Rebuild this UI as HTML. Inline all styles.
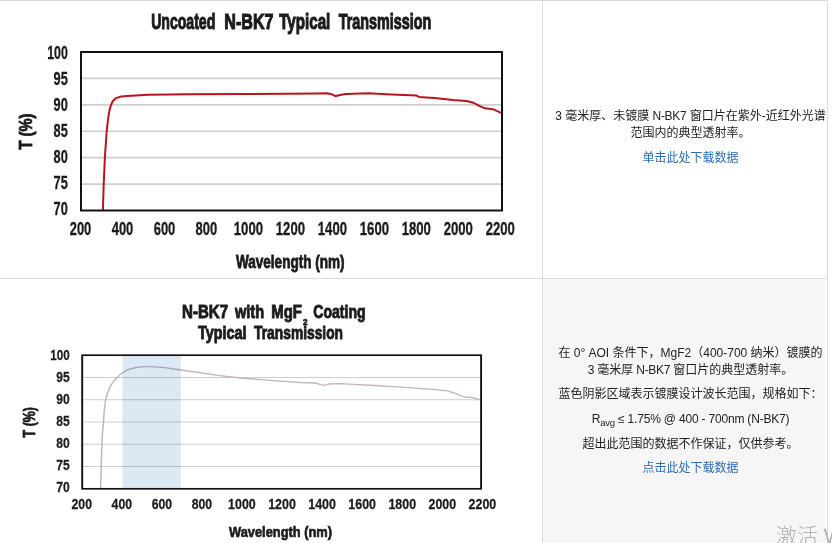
<!DOCTYPE html>
<html lang="zh-CN"><head><meta charset="utf-8"><title>N-BK7 Transmission</title>
<style>
html,body{margin:0;padding:0;background:#fff}
body{width:832px;height:543px;position:relative;overflow:hidden;font-family:"Liberation Sans","Noto Sans CJK SC",sans-serif;font-size:12px;color:#222}
.ln{position:absolute;background:#dedede}
.t{position:absolute;left:540.5px;width:300px;text-align:center;white-space:nowrap;line-height:17px;height:17px}
a{color:#2a6db5;text-decoration:none}
svg{position:absolute;left:0;top:0}
svg text{font-family:"Liberation Sans",sans-serif;fill:#1d1a1b}
.n{font-size:17.5px;font-weight:bold;stroke:#1d1a1b;stroke-width:.3px}
.b{font-size:17.5px;font-weight:bold;stroke:#1d1a1b;stroke-width:.8px}
.h{font-size:22.3px;font-weight:bold;stroke:#1d1a1b;stroke-width:1.1px}
.l{letter-spacing:-.3px}
sub{font-size:9.5px;vertical-align:-3px;line-height:0}
</style></head><body>
<div style="position:absolute;left:543px;top:279px;width:282.5px;height:264px;background:#f6f6f6"></div>
<div class="ln" style="left:0;top:0;width:828px;height:1px;background:#d9d9d9"></div>
<div class="ln" style="left:0;top:278px;width:828px;height:1px"></div>
<div class="ln" style="left:542px;top:0;width:1px;height:543px"></div>
<div class="ln" style="left:827px;top:0;width:1px;height:543px"></div>
<svg width="832" height="543" viewBox="0 0 832 543">
<g>
<text class="h" y="28.9"><tspan x="151.2" textLength="64.1" lengthAdjust="spacingAndGlyphs">Uncoated</tspan> <tspan x="224.3" textLength="49.2" lengthAdjust="spacingAndGlyphs">N-BK7</tspan> <tspan x="279.2" textLength="51.1" lengthAdjust="spacingAndGlyphs">Typical</tspan> <tspan x="338.8" textLength="92.4" lengthAdjust="spacingAndGlyphs">Transmission</tspan></text>
<line x1="81" x2="502" y1="78.42" y2="78.42" stroke="#cfcfcf" stroke-width="1.6"/>
<line x1="81" x2="502" y1="104.83" y2="104.83" stroke="#cfcfcf" stroke-width="1.6"/>
<line x1="81" x2="502" y1="131.25" y2="131.25" stroke="#cfcfcf" stroke-width="1.6"/>
<line x1="81" x2="502" y1="157.67" y2="157.67" stroke="#cfcfcf" stroke-width="1.6"/>
<line x1="81" x2="502" y1="184.08" y2="184.08" stroke="#cfcfcf" stroke-width="1.6"/>
<path d="M102.9 210.5 L103.2 200.0 L103.7 184.4 L104.9 157.1 L106.7 131.0 L108.2 117.8 L109.5 110.3 L111.0 105.0 L112.9 100.9 L116.0 98.1 L121.1 96.5 L127.3 95.9 L139.9 95.2 L148.0 94.7 L169.6 94.4 L185.7 94.2 L254.0 93.9 L316.0 93.4 L327.4 93.3 L331.5 94.2 L335.4 96.2 L338.8 95.3 L345.7 93.9 L368.5 93.3 L391.4 94.4 L416.5 95.5 L418.8 96.9 L434.7 98.0 L453.0 99.9 L466.7 101.0 L473.6 102.8 L480.4 106.3 L485.0 108.3 L493.0 109.2 L501.0 112.9" fill="none" stroke="#b8141f" stroke-width="2" stroke-linejoin="round"/>
<rect x="81" y="52" width="421" height="158.5" fill="none" stroke="#111" stroke-width="2"/>
<text class="n" x="67.8" y="59.0" text-anchor="end" textLength="20.6" lengthAdjust="spacingAndGlyphs">100</text>
<text class="n" x="67.8" y="85.0" text-anchor="end" textLength="14.2" lengthAdjust="spacingAndGlyphs">95</text>
<text class="n" x="67.8" y="111.1" text-anchor="end" textLength="14.2" lengthAdjust="spacingAndGlyphs">90</text>
<text class="n" x="67.8" y="137.1" text-anchor="end" textLength="14.2" lengthAdjust="spacingAndGlyphs">85</text>
<text class="n" x="67.8" y="163.2" text-anchor="end" textLength="14.2" lengthAdjust="spacingAndGlyphs">80</text>
<text class="n" x="67.8" y="189.2" text-anchor="end" textLength="14.2" lengthAdjust="spacingAndGlyphs">75</text>
<text class="n" x="67.8" y="215.2" text-anchor="end" textLength="14.2" lengthAdjust="spacingAndGlyphs">70</text>
<text class="n" x="80.5" y="235.4" text-anchor="middle" textLength="21.6" lengthAdjust="spacingAndGlyphs">200</text>
<text class="n" x="122.5" y="235.4" text-anchor="middle" textLength="21.6" lengthAdjust="spacingAndGlyphs">400</text>
<text class="n" x="164.5" y="235.4" text-anchor="middle" textLength="21.6" lengthAdjust="spacingAndGlyphs">600</text>
<text class="n" x="206.4" y="235.4" text-anchor="middle" textLength="21.6" lengthAdjust="spacingAndGlyphs">800</text>
<text class="n" x="248.4" y="235.4" text-anchor="middle" textLength="29.2" lengthAdjust="spacingAndGlyphs">1000</text>
<text class="n" x="290.4" y="235.4" text-anchor="middle" textLength="29.2" lengthAdjust="spacingAndGlyphs">1200</text>
<text class="n" x="332.4" y="235.4" text-anchor="middle" textLength="29.2" lengthAdjust="spacingAndGlyphs">1400</text>
<text class="n" x="374.4" y="235.4" text-anchor="middle" textLength="29.2" lengthAdjust="spacingAndGlyphs">1600</text>
<text class="n" x="416.3" y="235.4" text-anchor="middle" textLength="29.2" lengthAdjust="spacingAndGlyphs">1800</text>
<text class="n" x="458.3" y="235.4" text-anchor="middle" textLength="29.2" lengthAdjust="spacingAndGlyphs">2000</text>
<text class="n" x="500.3" y="235.4" text-anchor="middle" textLength="29.2" lengthAdjust="spacingAndGlyphs">2200</text>
<text class="b" x="290.3" y="268.2" text-anchor="middle" textLength="108.7" lengthAdjust="spacingAndGlyphs">Wavelength (nm)</text>
<text class="b" transform="translate(31.6 131.5) rotate(-90)" text-anchor="middle" textLength="36" lengthAdjust="spacingAndGlyphs">T (%)</text>
</g>
<g transform="matrix(0.9475 0 0 0.8429 5.45 311.37)">
<text class="h" y="7.3"><tspan x="186.4" textLength="48.6" lengthAdjust="spacingAndGlyphs">N-BK7</tspan> <tspan x="242.2" textLength="30.8" lengthAdjust="spacingAndGlyphs">with</tspan> <tspan x="280.5" textLength="32.3" lengthAdjust="spacingAndGlyphs">MgF</tspan><tspan x="314.0" y="15.8" font-size="11" stroke-width=".8" textLength="4.8" lengthAdjust="spacingAndGlyphs">2</tspan> <tspan x="324.9" y="7.3" textLength="55.2" lengthAdjust="spacingAndGlyphs">Coating</tspan></text>
<text class="h" y="32.5"><tspan x="203.2" textLength="51.1" lengthAdjust="spacingAndGlyphs">Typical</tspan> <tspan x="262.4" textLength="93.9" lengthAdjust="spacingAndGlyphs">Transmission</tspan></text>
<line x1="81" x2="502" y1="78.42" y2="78.42" stroke="#cecece" stroke-width="1.4"/>
<line x1="81" x2="502" y1="104.83" y2="104.83" stroke="#cecece" stroke-width="1.4"/>
<line x1="81" x2="502" y1="131.25" y2="131.25" stroke="#cecece" stroke-width="1.4"/>
<line x1="81" x2="502" y1="157.67" y2="157.67" stroke="#cecece" stroke-width="1.4"/>
<line x1="81" x2="502" y1="184.08" y2="184.08" stroke="#cecece" stroke-width="1.4"/>
<path d="M100.5 210.5 L101.1 182.1 L101.9 156.8 L102.4 143.9 L103.5 130.2 L104.4 116.4 L105.8 104.9 L107.8 96.6 L110.6 88.9 L114.0 83.2 L117.9 78.3 L122.0 74.1 L126.0 71.0 L131.1 68.6 L137.8 66.6 L145.6 65.5 L154.0 65.5 L168.2 66.7 L185.1 69.6 L202.0 72.2 L224.5 76.0 L247.5 79.0 L279.2 81.9 L311.0 84.4 L326.2 85.0 L330.4 86.0 L333.6 87.2 L335.8 87.7 L338.1 87.1 L341.5 86.2 L352.2 85.8 L390.2 87.9 L422.0 90.1 L450.5 92.6 L466.3 94.4 L474.2 97.0 L483.9 101.6 L493.4 102.3 L501.1 105.0" fill="none" stroke="#c5b5bc" stroke-width="1.6" stroke-linejoin="round"/>
<rect x="123.5" y="52.0" width="61.5" height="158.5" fill="#dce9f5" style="mix-blend-mode:multiply"/>
<rect x="81" y="52" width="421" height="158.5" fill="none" stroke="#111" stroke-width="2"/>
<text class="n" x="67.8" y="58.2" text-anchor="end" textLength="20.6" lengthAdjust="spacingAndGlyphs">100</text>
<text class="n" x="67.8" y="84.3" text-anchor="end" textLength="14.2" lengthAdjust="spacingAndGlyphs">95</text>
<text class="n" x="67.8" y="110.4" text-anchor="end" textLength="14.2" lengthAdjust="spacingAndGlyphs">90</text>
<text class="n" x="67.8" y="136.4" text-anchor="end" textLength="14.2" lengthAdjust="spacingAndGlyphs">85</text>
<text class="n" x="67.8" y="162.5" text-anchor="end" textLength="14.2" lengthAdjust="spacingAndGlyphs">80</text>
<text class="n" x="67.8" y="188.5" text-anchor="end" textLength="14.2" lengthAdjust="spacingAndGlyphs">75</text>
<text class="n" x="67.8" y="214.6" text-anchor="end" textLength="14.2" lengthAdjust="spacingAndGlyphs">70</text>
<text class="n" x="80.5" y="234.4" text-anchor="middle" textLength="21.6" lengthAdjust="spacingAndGlyphs">200</text>
<text class="n" x="122.8" y="234.4" text-anchor="middle" textLength="21.6" lengthAdjust="spacingAndGlyphs">400</text>
<text class="n" x="165.1" y="234.4" text-anchor="middle" textLength="21.6" lengthAdjust="spacingAndGlyphs">600</text>
<text class="n" x="207.3" y="234.4" text-anchor="middle" textLength="21.6" lengthAdjust="spacingAndGlyphs">800</text>
<text class="n" x="249.6" y="234.4" text-anchor="middle" textLength="29.2" lengthAdjust="spacingAndGlyphs">1000</text>
<text class="n" x="291.9" y="234.4" text-anchor="middle" textLength="29.2" lengthAdjust="spacingAndGlyphs">1200</text>
<text class="n" x="334.2" y="234.4" text-anchor="middle" textLength="29.2" lengthAdjust="spacingAndGlyphs">1400</text>
<text class="n" x="376.5" y="234.4" text-anchor="middle" textLength="29.2" lengthAdjust="spacingAndGlyphs">1600</text>
<text class="n" x="418.8" y="234.4" text-anchor="middle" textLength="29.2" lengthAdjust="spacingAndGlyphs">1800</text>
<text class="n" x="461.1" y="234.4" text-anchor="middle" textLength="29.2" lengthAdjust="spacingAndGlyphs">2000</text>
<text class="n" x="503.4" y="234.4" text-anchor="middle" textLength="29.2" lengthAdjust="spacingAndGlyphs">2200</text>
<text class="b" x="290.3" y="268.2" text-anchor="middle" textLength="108.7" lengthAdjust="spacingAndGlyphs">Wavelength (nm)</text>
<text class="b" transform="translate(31.6 131.5) rotate(-90)" text-anchor="middle" textLength="36" lengthAdjust="spacingAndGlyphs">T (%)</text>
</g>
</svg>
<div class="t" style="top:107.5px">3 毫米厚、未镀膜 <span class="l">N-BK7</span> 窗口片在紫外-近红外光谱</div>
<div class="t" style="top:124.5px">范围内的典型透射率。</div>
<div class="t" style="top:149.8px"><a>单击此处下载数据</a></div>
<div class="t" style="top:345.4px">在 0° AOI 条件下，MgF2（400-700 纳米）镀膜的</div>
<div class="t" style="top:362px"><span class="l">3 </span>毫米厚<span class="l"> N-BK7 </span>窗口片的典型透射率。</div>
<div class="t" style="top:385.5px">蓝色阴影区域表示镀膜设计波长范围，规格如下：</div>
<div class="t" style="top:410.5px;letter-spacing:-.19px">R<sub>avg</sub> ≤ 1.75% @ 400 - 700nm (N-BK7)</div>
<div class="t" style="top:435.5px">超出此范围的数据不作保证，仅供参考。</div>
<div class="t" style="top:459.8px"><a>点击此处下载数据</a></div>
<div style="position:absolute;left:776px;top:520.5px;font-size:21px;line-height:29px;color:#b0b0b0;white-space:nowrap;font-weight:300;font-family:'Liberation Sans','Noto Sans CJK SC',sans-serif">激活 Windows</div>
</body></html>
